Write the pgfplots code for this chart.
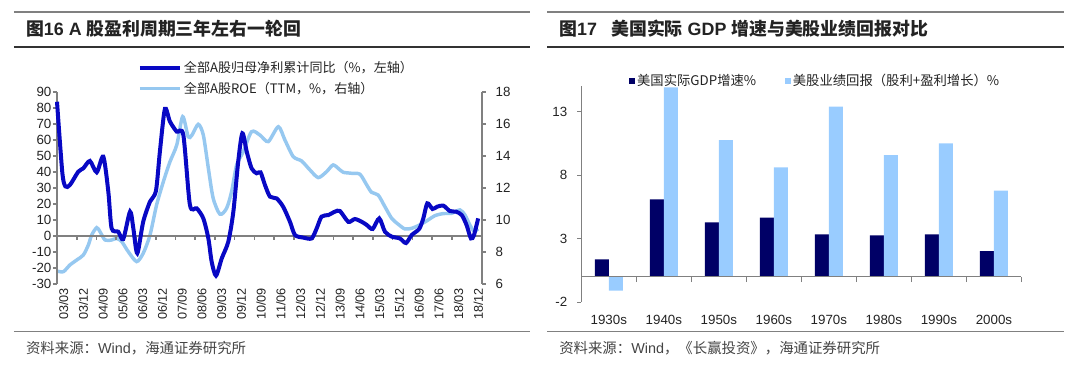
\documentclass[border=0pt]{standalone}
\usepackage{fontspec}
\setmainfont{Liberation Sans}
\newfontfamily\cjk{Noto Sans CJK SC}
\usepackage{pgfplots}
\pgfplotsset{compat=1.18}
\definecolor{darkline}{RGB}{8,8,196}
\definecolor{lightline}{RGB}{150,200,240}
\definecolor{navybar}{RGB}{0,0,102}
\definecolor{lightbar}{RGB}{153,204,255}
\definecolor{axgray}{RGB}{128,128,128}
\definecolor{txt}{RGB}{35,35,35}
\begin{document}
\begin{tikzpicture}
\path[use as bounding box] (0,0) rectangle (810pt,275.25pt);
% ---------- headers and footers ----------
\draw[axgray, line width=1.5pt] (10.35pt,266.25pt) -- (397.5pt,266.25pt);
\draw[black!80, line width=0.8pt] (10.35pt,240pt) -- (397.5pt,240pt);
\node[anchor=west, inner sep=0pt, text=txt] at (19.35pt,253.5pt)
  {\fontsize{13.4}{16}\selectfont\bfseries {\cjk 图}16 A {\cjk 股盈利周期三年左右一轮回}};
\draw[axgray, line width=1.5pt] (410.25pt,266.25pt) -- (798pt,266.25pt);
\draw[black!80, line width=0.8pt] (410.25pt,240pt) -- (798pt,240pt);
\node[anchor=west, inner sep=0pt, text=txt] at (419.25pt,253.5pt)
  {\fontsize{13.4}{16}\selectfont\bfseries {\cjk 图}17\hspace{0.8em}{\cjk 美国实际} GDP {\cjk 增速与美股业绩回报对比}};
\draw[axgray, line width=0.75pt] (10.35pt,26.6pt) -- (397.5pt,26.6pt);
\draw[axgray, line width=0.75pt] (410.25pt,26.6pt) -- (798pt,26.6pt);
\node[anchor=west, inner sep=0pt, text=txt!85] at (19.35pt,14.25pt)
  {\fontsize{10.8}{13}\selectfont {\cjk 资料来源：}Wind{\cjk ，海通证券研究所}};
\node[anchor=west, inner sep=0pt, text=txt!85] at (419.25pt,14.25pt)
  {\fontsize{10.8}{13}\selectfont {\cjk 资料来源：}Wind{\cjk ，《长赢投资》，海通证券研究所}};
% ---------- left chart: ROE (right axis) ----------
\begin{axis}[
 at={(42.75pt,62.25pt)}, anchor=south west,
 scale only axis, width=318.5pt, height=144pt,
 xmin=0, xmax=193.6, ymin=6, ymax=18,
 axis y line*=right, axis x line*=bottom,
 x axis line style={draw=none},
 xtick={0,9,...,189},
 xticklabels={03/03,03/12,04/09,05/06,06/03,06/12,07/09,08/06,09/03,09/12,10/09,11/06,12/03,12/12,13/09,14/06,15/03,15/12,16/09,17/06,18/03,18/12},
 xtick style={draw=none},
 xticklabel style={rotate=90, anchor=east, font=\fontsize{9.5}{11}\selectfont, text=txt, inner sep=0pt, yshift=-5pt},
 ytick={6,8,...,18},
 y axis line style={axgray, line width=1.5pt},
 ytick style={axgray, line width=1.2pt},
 tick align=outside, major tick length=3pt,
 yticklabel style={font=\fontsize{10}{12}\selectfont, text=txt, xshift=4pt},
 /pgf/number format/assume math mode=true,
 clip=false,
]
\addplot[lightline, line width=2.6pt, smooth, tension=0.45] coordinates {
(0,6.81)(2.9,6.77)(5.9,7.19)(9.0,7.5)(12.0,7.81)(14.3,8.44)(15.8,9.06)(18.1,9.52)(19.6,9.27)(21.9,8.75)(24.9,8.75)(27.2,8.85)(29.5,8.65)(32.5,8.02)(36.3,7.4)(39.3,7.92)(42.4,9.06)(45.4,10.94)(48.5,12.4)(51.5,13.64)(54.6,14.69)(57.3,16.46)(59.8,15.2)(61.5,15.3)(64.4,15.98)(66.7,15.31)(69.0,13.23)(71.2,11.36)(74.3,10.36)(77.3,10.73)(79.6,11.77)(81.9,13.44)(84.9,14.27)(88.7,15.52)(92.5,15.31)(96.3,14.9)(100.9,15.83)(103.9,15)(107.7,13.96)(111.5,13.69)(115.3,13.13)(119.1,12.65)(122.9,13.02)(125.9,13.44)(129.0,13.13)(130.5,12.98)(134.3,12.92)(138.1,12.86)(141.2,12.19)(143.4,11.73)(146.4,11.56)(149.5,10.83)(152.6,10.1)(155.6,9.73)(158.6,9.44)(161.7,9.48)(164.7,9.65)(168.5,9.94)(172.3,10.27)(176.1,10.4)(179.9,10.42)(183.7,10.63)(186.0,10.31)(188.2,9.69)(190.1,9.31)(192.0,9.44)
};
\end{axis}
% ---------- left chart: profit growth (left axis) ----------
\begin{axis}[
 at={(42.75pt,62.25pt)}, anchor=south west,
 scale only axis, width=318.5pt, height=144pt,
 xmin=0, xmax=193.6, ymin=-30, ymax=90,
 axis y line*=left, axis x line*=middle,
 xtick={0,9,...,189}, xticklabels={},
 ytick={-30,-20,...,90},
 axis line style={axgray, line width=1.5pt},
 tick style={axgray, line width=1.2pt},
 tick align=outside, major tick length=3pt,
 yticklabel style={font=\fontsize{10}{12}\selectfont, text=txt, inner sep=1pt},
 /pgf/number format/assume math mode=true,
 clip=false,
 legend cell align=left,
 legend image code/.code={\draw[#1] (0pt,0pt) -- (30pt,0pt);},
 legend style={at={(axis description cs:0.19,1.17)}, anchor=north west, draw=none, fill=none,
   inner sep=0pt, row sep=2.5pt, font=\fontsize{9.8}{11}\selectfont\cjk, text=txt,
   nodes={inner sep=1.5pt}},
]
\addplot[darkline, line width=3pt, smooth, tension=0.45] coordinates {
(0,83.9)(2.4,40)(3.8,31)(5.9,31.9)(9.7,40.2)(12.0,42.3)(15.0,46.9)(18.1,39.8)(21.1,49.6)(23.4,27.7)(24.9,4.8)(27.9,2.7)(30.2,-1.9)(33.3,15.2)(34.8,4.8)(36.6,-10.8)(39.3,8.9)(42.4,21.5)(45.1,28.1)(46.9,52.7)(49.2,79.4)(51.5,71.5)(54.6,65.2)(57.6,63.1)(60.6,19.4)(63.7,17.3)(66.7,11)(69.0,-1.5)(70.5,-16)(72.5,-24.8)(75.1,-14)(78.1,-3.5)(80.4,15.2)(82.6,46.4)(84.5,64.2)(86.5,52.7)(88.7,42.3)(91.0,39.2)(92.8,39.8)(94.8,31.9)(97.1,24.6)(100.1,23.5)(103.1,18.3)(106.2,8.9)(108.5,0.6)(112.3,-1)(116.1,-1.5)(118.4,4.8)(120.6,12.1)(123.7,13.1)(126.7,15.2)(129.0,15.6)(132.8,8.9)(135.8,10.6)(138.9,8.9)(141.2,6.9)(143.9,4.4)(146.9,11)(149.5,2.7)(152.6,-0.4)(156.3,-1.5)(159.1,-4.4)(161.7,0.6)(165.1,4.4)(167.0,11)(168.8,20.4)(171.2,16.9)(173.3,18.3)(176.1,19)(179.1,15.6)(181.9,15.2)(184.5,13.1)(186.7,6.9)(188.7,-1.5)(190.1,0.6)(192.0,11)
};
\addlegendentry{全部A股归母净利累计同比（\%，左轴）}
\addlegendimage{lightline, line width=2.6pt}
\addlegendentry{全部A股ROE（TTM，\%，右轴）}
\end{axis}
% ---------- right chart: bars ----------
\begin{axis}[
 at={(435.98pt,48.68pt)}, anchor=south west,
 scale only axis, width=330.1pt, height=161.9pt,
 xmin=-0.5, xmax=7.5, ymin=-2, ymax=15,
 axis y line*=left, axis x line*=bottom,
 x axis line style={draw=none},
 xtick={0,...,7},
 xticklabels={1930s,1940s,1950s,1960s,1970s,1980s,1990s,2000s},
 xtick style={draw=none},
 ytick={-2,3,8,13},
 y axis line style={axgray, line width=0.8pt},
 ytick style={axgray, line width=0.8pt},
 tick align=outside, major tick length=3pt,
 ticklabel style={font=\fontsize{10}{12}\selectfont, text=txt},
 yticklabel style={xshift=-4pt},
 xticklabel style={yshift=-3pt},
 /pgf/number format/assume math mode=true,
 ybar, bar width=10.5pt,
 clip=false,
 legend columns=2,
 legend style={at={(axis description cs:0.108,1.024)}, anchor=west, draw=none, fill=none,
   inner sep=0pt, font=\fontsize{10}{12}\selectfont\cjk, text=txt,
   nodes={inner sep=1.5pt},
   /tikz/every even column/.append style={column sep=20pt}},
]
\addplot[fill=navybar, draw=none, bar shift=-5.25pt,
  legend image code/.code={\fill[navybar] (0pt,-2.25pt) rectangle (4.5pt,2.25pt);}]
  coordinates {(0,1.37) (1,6.09) (2,4.28) (3,4.65) (4,3.34) (5,3.26) (6,3.34) (7,2.02)};
\addlegendentry{美国实际GDP增速\%}
\addplot[fill=lightbar, draw=none, bar shift=5.25pt,
  legend image code/.code={\fill[lightbar] (0pt,-2.25pt) rectangle (4.5pt,2.25pt);}]
  coordinates {(0,-1.1) (1,14.9) (2,10.76) (3,8.61) (4,13.39) (5,9.58) (6,10.5) (7,6.77)};
\addlegendentry{美股业绩回报（股利+盈利增长）\%}
\end{axis}
\begin{axis}[
 at={(435.98pt,48.68pt)}, anchor=south west,
 scale only axis, width=330.1pt, height=161.9pt,
 xmin=-0.5, xmax=7.5, ymin=-2, ymax=15,
 axis x line*=middle, axis y line=none,
 xtick={-0.5,0.5,...,7.5}, xticklabels={}, ytick=\empty,
 x axis line style={axgray, line width=0.8pt},
 xtick style={axgray, line width=0.8pt},
 tick align=outside, major tick length=4pt,
]
\end{axis}
\end{tikzpicture}
\end{document}
